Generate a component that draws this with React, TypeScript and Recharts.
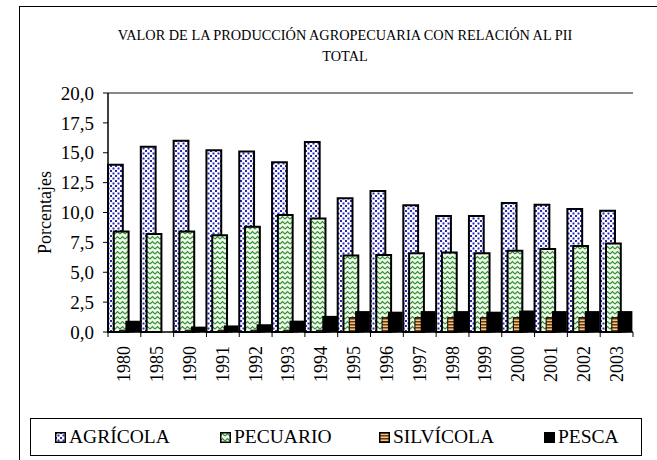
import React from 'react';
import { BarChart, Bar, XAxis, YAxis, ReferenceLine } from 'recharts';

const YEARS = ['1980', '1985', '1990', '1991', '1992', '1993', '1994', '1995', '1996', '1997', '1998', '1999', '2000', '2001', '2002', '2003'];
const AGRICOLA = [14.0, 15.5, 16.0, 15.2, 15.1, 14.2, 15.9, 11.2, 11.8, 10.6, 9.7, 9.7, 10.8, 10.65, 10.3, 10.15];
const PECUARIO = [8.4, 8.2, 8.4, 8.1, 8.8, 9.8, 9.5, 6.4, 6.45, 6.6, 6.65, 6.6, 6.8, 6.95, 7.2, 7.4];
const SILVICOLA = [0.15, 0, 0.15, 0.15, 0.15, 0.15, 0.15, 1.2, 1.2, 1.2, 1.2, 1.2, 1.2, 1.2, 1.2, 1.2];
const PESCA = [0.95, 0, 0.45, 0.55, 0.65, 0.95, 1.35, 1.75, 1.7, 1.75, 1.75, 1.7, 1.8, 1.75, 1.75, 1.75];
const Y_TICKS = [0, 2.5, 5, 7.5, 10, 12.5, 15, 17.5, 20];

const SERIES = [
  { key: 'agricola', name: 'AGRÍCOLA', fill: 'url(#pAgr)', stroke: 2 },
  { key: 'pecuario', name: 'PECUARIO', fill: 'url(#pPec)', stroke: 2 },
  { key: 'silvicola', name: 'SILVÍCOLA', fill: 'url(#pSil)', stroke: 1 },
  { key: 'pesca', name: 'PESCA', fill: '#000', stroke: 0 },
];

const data = YEARS.map((year, i) => ({
  year,
  agricola: AGRICOLA[i],
  pecuario: PECUARIO[i],
  silvicola: SILVICOLA[i],
  pesca: PESCA[i],
}));

const FONT = 'Liberation Serif, DejaVu Serif, serif';
const W = 657;
const H = 460;
const MARGIN = { top: 93, right: 24, bottom: 68, left: 30 };
const PLOT_W = W - MARGIN.left - 78 - MARGIN.right;
const BAND = PLOT_W / YEARS.length;
const LEGEND_X = [24, 189, 348, 513];

const Patterns = () => (
  <defs>
    <pattern id="pAgr" patternUnits="userSpaceOnUse" width="5" height="5">
      <rect width="5" height="5" fill="#fff" />
      <rect x="0" y="0" width="2" height="2" fill="#2626b4" />
      <rect x="2.5" y="2.5" width="2" height="2" fill="#2626b4" />
    </pattern>
    <pattern id="pPec" patternUnits="userSpaceOnUse" width="5" height="5">
      <rect width="5" height="5" fill="#f0faec" />
      <path d="M0,4 L2.5,1.5 L5,4" fill="none" stroke="#2f8f2f" strokeWidth="1.2" />
    </pattern>
    <pattern id="pSil" patternUnits="userSpaceOnUse" width="4" height="3">
      <rect width="4" height="3" fill="#f2c486" />
      <rect width="4" height="1.5" fill="#6b3a0c" />
    </pattern>
  </defs>
);

const YearTick = (props: any) => {
  const { x, y, payload, index } = props;
  const left = x - BAND / 2;
  return (
    <g>
      <line x1={left} x2={left} y1={y} y2={y + 5} stroke="#000" />
      {index === YEARS.length - 1 && (
        <line x1={x + BAND / 2} x2={x + BAND / 2} y1={y} y2={y + 5} stroke="#000" />
      )}
      <text
        x={x}
        y={y + 14}
        transform={`rotate(-90, ${x}, ${y + 14})`}
        textAnchor="end"
        dominantBaseline="central"
        style={{ fontFamily: FONT }}
        fontSize={18}
        fill="#000"
      >
        {payload.value}
      </text>
    </g>
  );
};

const YLabel = (props: any) => {
  const vb = props.viewBox;
  const cx = vb.x + 15;
  const cy = vb.y + vb.height / 2;
  return (
    <text x={cx} y={cy} transform={`rotate(-90, ${cx}, ${cy})`} textAnchor="middle" dominantBaseline="central" style={{ fontFamily: FONT }} fontSize={18} fill="#000">
      Porcentajes
    </text>
  );
};

const Swatch = ({ fill }: { fill: string }) => (
  <svg width={11} height={11} style={{ display: 'block' }}>
    <rect x={0.75} y={0.75} width={9.5} height={9.5} fill={fill} stroke="#000" strokeWidth={1.5} />
  </svg>
);

export default function App() {
  return (
    <div style={{ position: 'absolute', left: 0, top: 0, width: W, height: H, overflow: 'hidden', background: '#fff', fontFamily: FONT }}>
      <div style={{ position: 'absolute', left: 19, top: 6, width: 700, height: 500, borderLeft: '1.5px solid #000', borderTop: '1.5px solid #000' }} />
      <div style={{ position: 'absolute', left: 0, width: 690, top: 25, textAlign: 'center', fontSize: 14.3, lineHeight: '21px', color: '#000' }}>
        VALOR DE LA PRODUCCIÓN AGROPECUARIA CON RELACIÓN AL PII
        <br />
        TOTAL
      </div>
      <div style={{ position: 'absolute', left: 0, top: 0 }}>
        <BarChart width={W} height={H} data={data} margin={MARGIN} barCategoryGap={0} barGap={-9} barSize={14.8}>
          <svg>
            <Patterns />
          </svg>
          <XAxis dataKey="year" height={60} tickSize={0} tickMargin={0} tickLine={false} axisLine={{ stroke: '#000', strokeWidth: 1.5 }} tick={<YearTick />} interval={0} />
          <YAxis
            domain={[0, 20]}
            ticks={Y_TICKS}
            width={78}
            tickSize={5}
            tickMargin={9}
            tickFormatter={(v: number) => v.toFixed(1).replace('.', ',')}
            tick={{ style: { fontFamily: FONT }, fontSize: 19, fill: '#000' }}
            tickLine={{ stroke: '#000' }}
            axisLine={{ stroke: '#000', strokeWidth: 1.5 }}
            label={<YLabel />}
          />
          <YAxis yAxisId="r" orientation="right" domain={[0, 20]} width={0} tick={false} tickLine={false} axisLine={{ stroke: '#888', strokeWidth: 2 }} />
          <ReferenceLine y={20} stroke="#888" strokeWidth={2} />
          {SERIES.map((s) => (
            <Bar key={s.key} dataKey={s.key} name={s.name} fill={s.fill} stroke="#000" strokeWidth={s.stroke} isAnimationActive={false} />
          ))}
        </BarChart>
      </div>
      <div style={{ position: 'absolute', left: 30, top: 418, width: 612, height: 38, border: '1px solid #000', boxSizing: 'border-box' }}>
        {SERIES.map((s, i) => (
          <div key={s.key} style={{ position: 'absolute', left: LEGEND_X[i], top: 0, height: 36, display: 'flex', alignItems: 'center', gap: 3, fontSize: 19.5, whiteSpace: 'nowrap' }}>
            <Swatch fill={s.fill} />
            <span>{s.name}</span>
          </div>
        ))}
      </div>
    </div>
  );
}
